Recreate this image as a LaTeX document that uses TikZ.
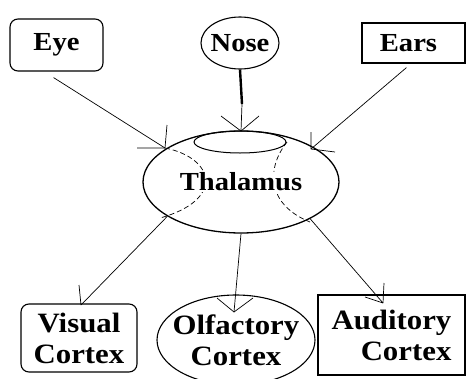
\documentclass[tikz,border=0pt]{standalone}
\usepackage{fontspec}
\setmainfont{Liberation Serif}[FakeStretch=1.1]
\usetikzlibrary{shapes.geometric}
\begin{document}
\begin{tikzpicture}[x=1pt,y=-1pt,
  lbl/.style={font=\fontsize{26}{31}\selectfont\bfseries, inner sep=0pt},
  bigl/.style={font=\fontsize{28}{31}\selectfont\bfseries, inner sep=0pt},
  boxline/.style={draw=black, line width=1.1pt},
  conn/.style={line width=0.7pt},
  tick/.style={line width=0.7pt},
  inner/.style={line width=0.7pt, dash pattern=on 5pt off 3pt}]
\useasboundingbox (0,0) rectangle (466,378);
% top sources
\node[lbl, boxline, rounded corners=8pt, minimum width=93pt, minimum height=52pt] (eye) at (56.5,45) {Eye};
\node[lbl, boxline, ellipse, inner xsep=-3pt, minimum width=78pt, minimum height=52pt] (nose) at (240,43) {Nose};
\node[lbl, boxline, minimum width=103pt, minimum height=40pt] (ears) at (413.5,43) {Ears\hspace*{10pt}};
% thalamus
\node[ellipse, draw=black, line width=1.3pt, inner sep=0pt, minimum width=196pt, minimum height=102pt] (thal) at (241,182) {};
\draw[line width=1pt] (240,142) ellipse [x radius=46, y radius=11];
\draw[inner] (165,148) .. controls (215,158) and (225,200) .. (160,218);
\draw[inner] (287,142) .. controls (265,170) and (268,205) .. (310,222);
\node[lbl, fill=white, inner sep=1pt] (thalText) at (thal.center) {Thalamus};
% targets
\node[bigl, boxline, rounded corners=8pt, minimum width=116pt, minimum height=68pt, align=center] (vis) at (79,338) {Visual\\Cortex};
\node[bigl, boxline, ellipse, inner xsep=-9pt, inner ysep=0pt, minimum width=158pt, minimum height=90pt, align=center] (olf) at (236,340) {Olfactory\\Cortex};
\node[bigl, boxline, minimum width=147pt, minimum height=80pt, align=right] (aud) at (391.5,335) {Auditory\\Cortex};
% arrow end coordinates
\coordinate (eyeEnd) at (165,148);
\coordinate (noseMid) at (242,104);
\coordinate (noseEnd) at (241,131);
\coordinate (earsEnd) at (311,149);
\coordinate (visEnd) at (81,305);
\coordinate (olfEnd) at (234,312);
\coordinate (audEnd) at (383,303);
% connectors
\draw[conn] ([shift={(-3,6)}]eye.south) -- (eyeEnd);
\draw[tick] (eyeEnd) -- ++(-28,0) (eyeEnd) -- ++(2,-23);
\draw[line width=2.4pt] (nose.south) -- (noseMid);
\draw[conn] (noseMid) -- (noseEnd);
\draw[tick] (noseEnd) -- ++(-20,-15) (noseEnd) -- ++(18,-15);
\draw[conn] ([shift={(-7,4)}]ears.south) -- (earsEnd);
\draw[tick] (earsEnd) -- ++(0,-17) (earsEnd) -- ++(24,3);
\draw[conn] (thal.205) -- (visEnd);
\draw[tick] (visEnd) -- ++(-2,-20);
\draw[conn] (thal.south) -- (olfEnd);
\draw[tick] (olfEnd) -- ++(-17,-14) (olfEnd) -- ++(19,-14);
\draw[conn] (thal.-28) -- (audEnd);
\draw[tick] (audEnd) -- ++(1,-20) (audEnd) -- ++(-18,-6);
\end{tikzpicture}
\end{document}
